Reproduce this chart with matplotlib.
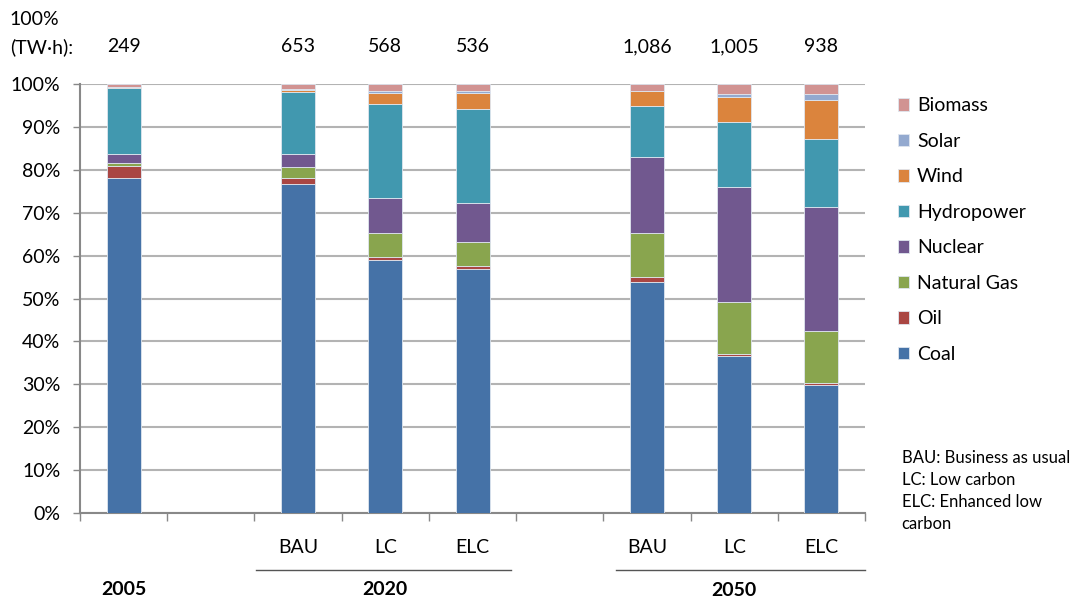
import numpy as np
import matplotlib.pyplot as plt

plt.rcParams['font.family'] = ['Lato', 'DejaVu Sans']

# category slots: 2005, gap, 2020 BAU/LC/ELC, gap, 2050 BAU/LC/ELC
slots = [0, 2, 3, 4, 6, 7, 8]
scen = ['', 'BAU', 'LC', 'ELC', 'BAU', 'LC', 'ELC']
totals = ['249', '653', '568', '536', '1,086', '1,005', '938']

coal    = [78.2, 76.6, 58.9, 56.8, 53.8, 36.7, 29.8]
oil     = [2.6, 1.6, 0.9, 0.8, 1.3, 0.4, 0.5]
gas     = [0.7, 2.4, 5.4, 5.7, 10.1, 12.0, 12.1]
nuclear = [2.1, 3.2, 8.2, 8.9, 17.9, 26.8, 29.0]
hydro   = [15.6, 14.4, 21.9, 21.9, 11.8, 15.2, 15.9]
wind    = [0.2, 0.5, 2.7, 3.8, 3.4, 5.9, 9.0]
solar   = [0.0, 0.1, 0.4, 0.4, 0.1, 0.7, 1.3]
biomass = [0.6, 1.2, 1.6, 1.7, 1.6, 2.3, 2.4]

series = [('Coal', coal, '#4572A7'), ('Oil', oil, '#AA4643'),
          ('Natural Gas', gas, '#89A54E'), ('Nuclear', nuclear, '#71588F'),
          ('Hydropower', hydro, '#4198AF'), ('Wind', wind, '#DB843D'),
          ('Solar', solar, '#93A9CF'), ('Biomass', biomass, '#D19392')]

FS = 14

fig = plt.figure(figsize=(10.76, 6.01), dpi=100)
ax = fig.add_axes([0.0743, 0.1464, 0.7297, 0.7136])

bottom = np.zeros(len(slots))
handles = []
for name, vals, col in series:
    v = np.array(vals)
    h = ax.bar(slots, v, bottom=bottom, width=0.39, color=col,
               edgecolor='#dfe6ef', linewidth=0.6, zorder=3, label=name)
    handles.append(h)
    bottom += v

ax.set_xlim(-0.5, 8.5)
ax.set_ylim(0, 100)
ax.set_yticks(np.arange(0, 101, 10))
ax.set_yticklabels([f'{t}%' for t in range(0, 101, 10)], fontsize=FS)
ax.yaxis.grid(True, color='#b3b3b3', linewidth=1.5, zorder=0)
ax.set_xticks(np.arange(-0.5, 9, 1))
ax.set_xticklabels([])
ax.tick_params(axis='x', length=6, color='#888888', width=1)
ax.tick_params(axis='y', length=5, color='#888888', width=1, pad=9)
for s in ['top', 'right']:
    ax.spines[s].set_visible(False)
for s in ['left', 'bottom']:
    ax.spines[s].set_color('#888888')
    ax.spines[s].set_linewidth(1.5)

# scenario labels and totals
for x, lab, tot in zip(slots, scen, totals):
    ax.text(x, -8.0, lab, ha='center', va='center', fontsize=FS)
    ax.text(x, 108.7, tot, ha='center', va='center', fontsize=FS)

fig.text(0.009, 0.968, '100%', fontsize=FS, va='center', ha='left')
fig.text(0.009, 0.922, '(TW\u00b7h):', fontsize=FS, va='center', ha='left')

# group labels
ax.text(0, -17.8, '2005', ha='center', va='center', fontsize=FS,
        fontweight='bold', clip_on=False)
ax.text(3, -17.8, '2020', ha='center', va='center', fontsize=FS,
        fontweight='bold', clip_on=False)
ax.text(7, -18.1, '2050', ha='center', va='center', fontsize=FS,
        fontweight='bold', clip_on=False)
for x0, x1 in [(1.52, 4.44), (5.65, 8.5)]:
    ax.plot([x0, x1], [-13.3, -13.3], color='#555555', linewidth=1,
            clip_on=False)

leg = fig.legend(handles[::-1], [s[0] for s in series][::-1],
                 loc='upper left', bbox_to_anchor=(0.818, 0.867),
                 frameon=False, fontsize=FS, handlelength=0.6,
                 handleheight=0.6, labelspacing=0.95, handletextpad=0.4)

notes = ['BAU: Business as usual', 'LC: Low carbon',
         'ELC: Enhanced low', 'carbon']
for i, t in enumerate(notes):
    fig.text(0.838, 0.238 - i * 0.0366, t, fontsize=12, va='center',
             ha='left')

fig.savefig('out.png', dpi=100)
